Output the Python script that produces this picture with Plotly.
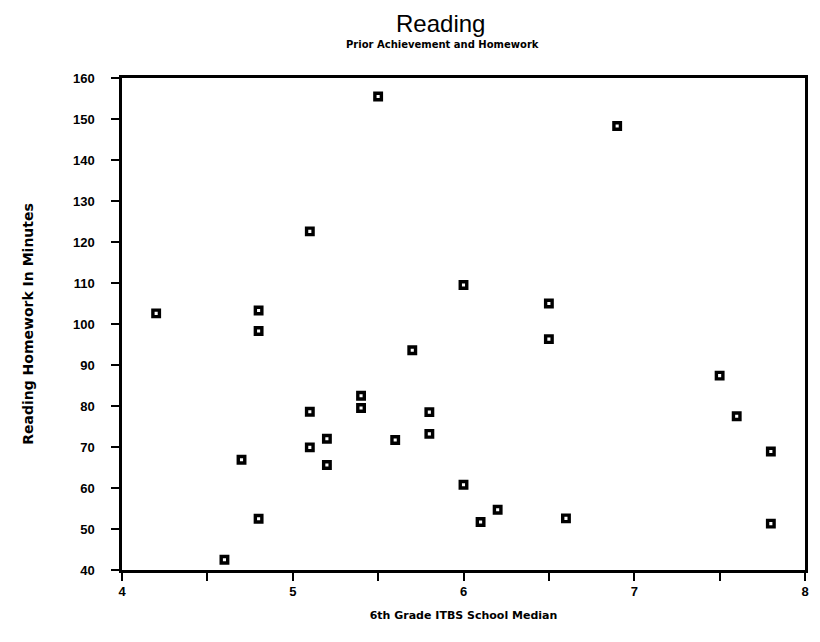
import plotly.graph_objects as go

itbs_median = [4.2, 4.6, 4.7, 4.8, 4.8, 4.8, 5.1, 5.1, 5.1, 5.2, 5.2, 5.4, 5.4, 5.5, 5.6,
               5.7, 5.8, 5.8, 6.0, 6.0, 6.1, 6.2, 6.5, 6.5, 6.6, 6.9, 7.5, 7.6, 7.8, 7.8]
homework_min = [102.6, 42.5, 66.9, 103.3, 98.3, 52.5, 122.6, 78.6, 69.9, 72.0, 65.6, 82.5, 79.5, 155.5, 71.7,
                93.6, 78.5, 73.2, 109.5, 60.8, 51.7, 54.7, 105.0, 96.3, 52.6, 148.3, 87.4, 77.5, 68.9, 51.3]

x_tickvals = [4, 4.5, 5, 5.5, 6, 6.5, 7, 7.5, 8]
x_ticktext = ["4", "", "5", "", "6", "", "7", "", "8"]
y_ticks = list(range(40, 161, 10))

fig = go.Figure(go.Scatter(
    x=itbs_median, y=homework_min, mode="markers",
    marker=dict(symbol="square-open", size=6.5, color="black", line=dict(width=3.4, color="black")),
    showlegend=False, hoverinfo="x+y"))

tickfont = dict(family="Liberation Sans", size=13, color="black", weight="bold")
fig.update_xaxes(range=[4, 8], tickmode="array", tickvals=x_tickvals, ticktext=x_ticktext,
                 ticks="outside", ticklen=8, tickwidth=2, tickcolor="black",
                 showline=True, linewidth=2.5, linecolor="black", mirror=True, automargin=False,
                 showgrid=False, zeroline=False, tickfont=tickfont, ticklabelstandoff=0,
                 title=dict(text="<b>6th Grade ITBS School Median</b>",
                            font=dict(family="DejaVu Sans", size=11, color="black"), standoff=13))
fig.update_yaxes(range=[40, 160], tickmode="linear", tick0=40, dtick=10,
                 ticks="outside", ticklen=8, tickwidth=2, tickcolor="black",
                 showline=True, linewidth=2.5, linecolor="black", mirror=True, automargin=False,
                 showgrid=False, zeroline=False, tickfont=tickfont, ticklabelstandoff=14,
                 title=dict(text="<b>Reading Homework In Minutes</b>",
                            font=dict(family="DejaVu Sans", size=14, color="black"), standoff=37))

# page body has an 8px margin, so the figure is drawn 8px smaller and offset
W, H = 812, 634
ml, mt = 114, 70
w_plot, h_plot = 683, 492
fig.update_layout(
    width=W, height=H, plot_bgcolor="white", paper_bgcolor="white",
    margin=dict(l=ml, r=W - ml - w_plot, t=mt, b=H - mt - h_plot),
    annotations=[
        dict(text="Reading", x=(440 - 122) / w_plot, xref="paper", y=1 + mt / h_plot, yref="paper",
             yanchor="top", showarrow=False,
             font=dict(family="Liberation Sans", size=24, color="black")),
        dict(text="<b>Prior Achievement and Homework</b>", x=(442 - 122) / w_plot, xref="paper",
             y=1 + (78 - 45) / h_plot, yref="paper", yanchor="middle",
             showarrow=False, font=dict(family="DejaVu Sans", size=10, color="black")),
    ],
)

fig.write_html("out.html")
